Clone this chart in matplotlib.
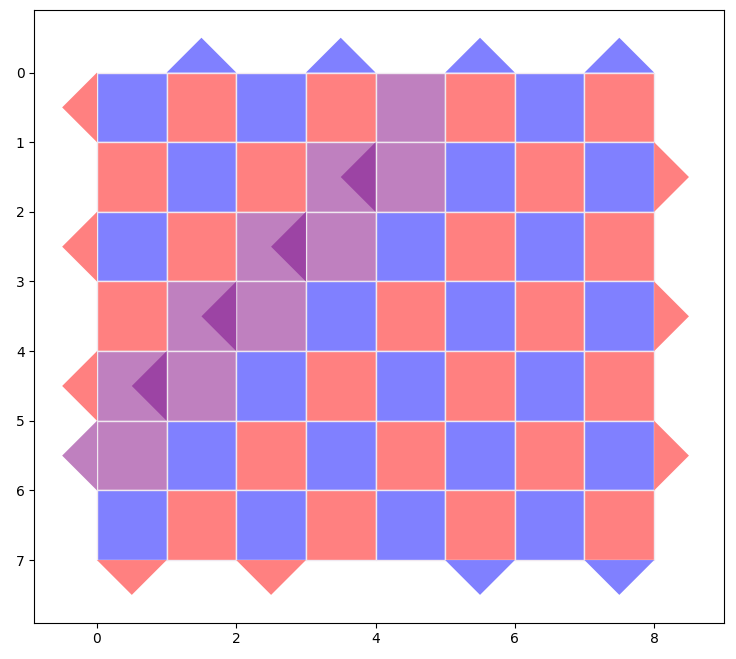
import matplotlib
matplotlib.use("Agg")
import matplotlib.pyplot as plt
from matplotlib.patches import Polygon

ncols, nrows = 8, 7
purple_cells = [(4,0),(4,1),(3,1),(3,2),(2,2),(2,3),(1,3),(1,4),(0,4),(0,5)]
# edge triangles: (side, index, colour-key)
top_tri = [(1,'b'),(3,'b'),(5,'b'),(7,'b')]
bottom_tri = [(0,'r'),(2,'r'),(5,'b'),(7,'b')]
left_tri = [(0,'r'),(2,'r'),(4,'r'),(5,'p')]
right_tri = [(1,'r'),(3,'r'),(5,'r')]
inner_tri = [(4,1),(3,2),(2,3),(1,4)]  # (right edge x, top row)

C = {'b':'#8080ff','r':'#ff8080','p':'#bf80bf','d':'#9c44a4'}
ec = '#f0e8f0'

fig, ax = plt.subplots(figsize=(7.36,6.59), dpi=100)
for r in range(nrows):
    for c in range(ncols):
        k = 'p' if (c,r) in purple_cells else ('b' if (r+c)%2==0 else 'r')
        ax.add_patch(Polygon([(c,r),(c+1,r),(c+1,r+1),(c,r+1)], closed=True, fc=C[k], ec=ec, lw=1))
for c,k in top_tri:
    ax.add_patch(Polygon([(c,0),(c+1,0),(c+0.5,-0.5)], fc=C[k], ec='none'))
for c,k in bottom_tri:
    ax.add_patch(Polygon([(c,7),(c+1,7),(c+0.5,7.5)], fc=C[k], ec='none'))
for r,k in left_tri:
    ax.add_patch(Polygon([(0,r),(0,r+1),(-0.5,r+0.5)], fc=C[k], ec='none'))
for r,k in right_tri:
    ax.add_patch(Polygon([(8,r),(8,r+1),(8.5,r+0.5)], fc=C[k], ec='none'))
for x,r in inner_tri:
    ax.add_patch(Polygon([(x,r),(x,r+1),(x-0.5,r+0.5)], fc=C['d'], ec='none'))

ax.set_xlim(-0.9,9.0)
ax.set_ylim(7.9,-0.9)
ax.set_aspect('equal')
ax.set_xticks([0,2,4,6,8])
ax.set_yticks(range(8))
plt.subplots_adjust(left=0.045,right=0.985,bottom=0.055,top=0.985)
fig.savefig('out.png', dpi=100)
